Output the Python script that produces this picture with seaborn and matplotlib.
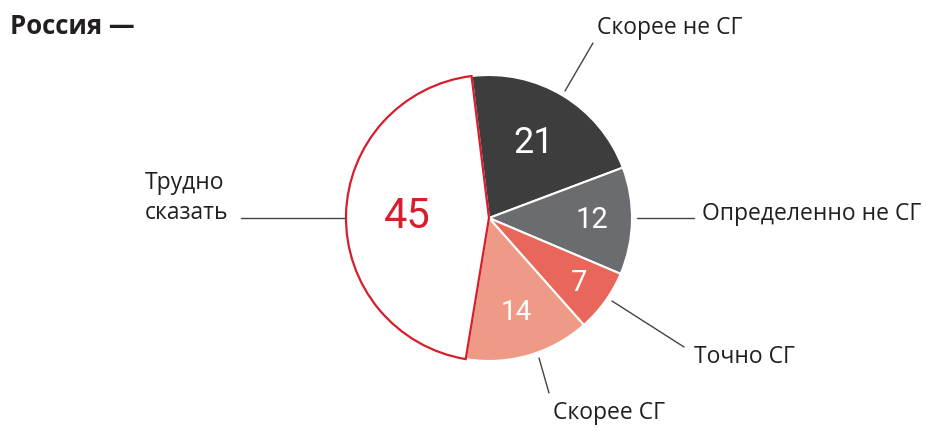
import numpy as np
import matplotlib
matplotlib.use("Agg")
import matplotlib.pyplot as plt
import seaborn as sns

# ---- data ----
categories = ["Скорее не СГ", "Определенно не СГ", "Точно СГ", "Скорее СГ", "Трудно\nсказать"]
values = [21, 12, 7, 14, 45]
value_labels = ["21", "12", "7", "14", "45"]
title = "Россия —"

# ---- style ----
colors = ["#3d3d3d", "#6b6c70", "#e8665a", "#ef9a86", "#ffffff"]
edge_colors = ["white", "white", "white", "white", "#d61e2d"]
num_colors = ["white", "white", "white", "white", "#d61e2d"]
num_sizes = [26, 21, 21, 20, 30]
num_dist = [0.61, 0.72, 0.78, 0.69, 0.57]
W, H = 928, 432
CX, CY, R = 489, 218, 143

sns.set_theme(style="white")
plt.rcParams['font.family'] = ['Open Sans', 'DejaVu Sans']

fig = plt.figure(figsize=(W / 100, H / 100), dpi=100)
ax = fig.add_axes([0, 0, 1, 1])

def P(x, y):
    return (x, H - y)

wedges, _ = ax.pie(values, colors=colors, startangle=97, counterclock=False,
                   center=P(CX, CY), radius=R, normalize=True,
                   wedgeprops=dict(linewidth=1.5))
ax.set_xlim(0, W)
ax.set_ylim(0, H)
ax.set_aspect("equal")
ax.axis("off")

for w, ec in zip(wedges, edge_colors):
    w.set_edgecolor(ec)
    if ec != "white":
        w.set_linewidth(1.6)
        w.set_zorder(3)

for w, lab, col, fs, d in zip(wedges, value_labels, num_colors, num_sizes, num_dist):
    ang = np.deg2rad((w.theta1 + w.theta2) / 2)
    x = CX + d * R * np.cos(ang)
    y = H - CY + d * R * np.sin(ang)
    ax.text(x, y, lab, color=col, fontsize=fs, ha="center", va="center",
            family=["Roboto", "DejaVu Sans"], fontweight="normal",
            fontstretch="condensed", zorder=5)

txt_col = "#231f20"
line_col = "#444444"
label_layout = [
    dict(t=(597, 28), ha="left", line=((565, 91), (593, 43))),
    dict(t=(702, 214), ha="left", line=((637, 218), (694, 218))),
    dict(t=(694, 357), ha="left", line=((612, 301), (684, 347))),
    dict(t=(553, 413), ha="left", line=((539, 358), (549, 393))),
    dict(t=(145, 198), ha="left", line=((241, 218), (346, 218))),
]
for cat, lay in zip(categories, label_layout):
    ax.text(*P(*lay["t"]), cat, fontsize=16.5, color=txt_col, ha=lay["ha"],
            va="center", linespacing=1.3)
    (x0, y0), (x1, y1) = lay["line"]
    ax.plot([x0, x1], [H - y0, H - y1], color=line_col, lw=1)

ax.text(*P(10, 27), title, fontsize=18.5, fontweight="bold", color=txt_col,
        ha="left", va="center")

fig.savefig("out.png", dpi=100)
